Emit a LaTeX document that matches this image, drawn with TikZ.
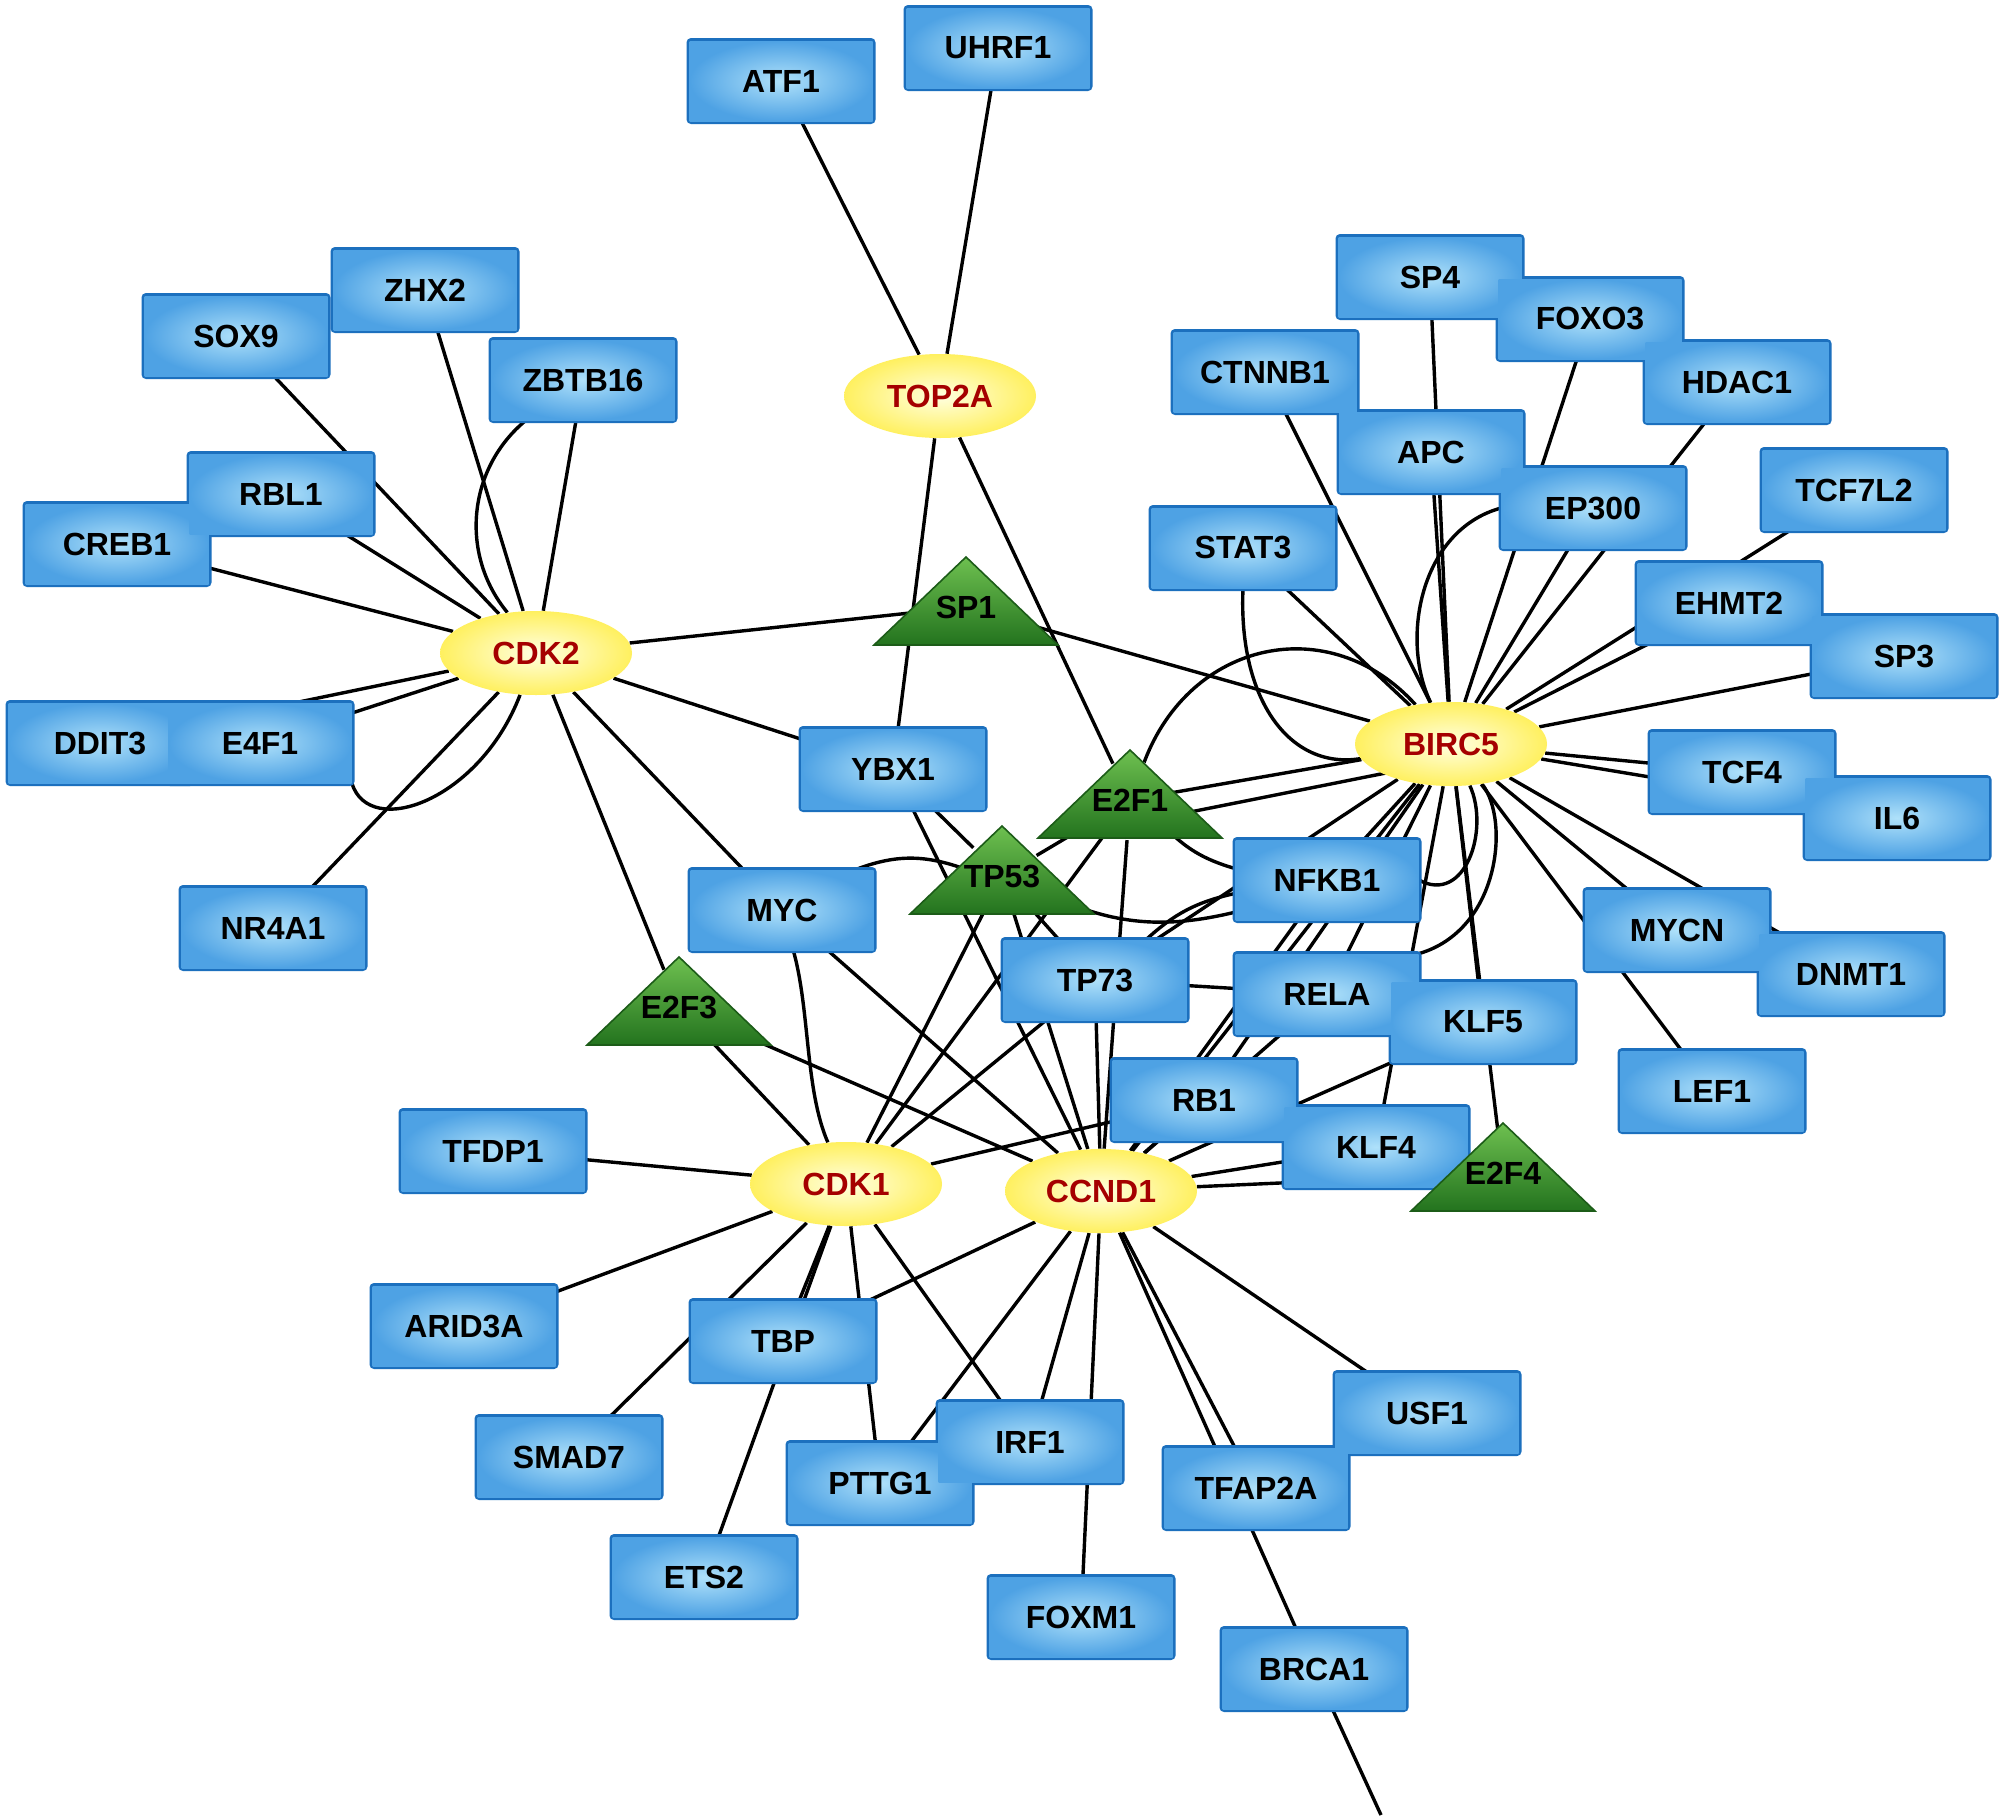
\documentclass[tikz,border=0pt]{standalone}
\usepackage{fontspec}
\setmainfont{Liberation Sans}
\usetikzlibrary{shapes.geometric}
\definecolor{boxfill}{RGB}{78,162,228}
\definecolor{boxline}{RGB}{28,112,190}
\definecolor{halo}{RGB}{175,225,250}
\definecolor{hubin}{RGB}{255,255,225}
\definecolor{hubout}{RGB}{255,240,95}
\definecolor{hubtext}{RGB}{165,0,0}
\definecolor{trtop}{RGB}{110,192,80}
\definecolor{trbot}{RGB}{35,115,30}
\pgfdeclarelayer{edges}
\pgfdeclarelayer{borders}
\pgfsetlayers{edges,borders,main}
\tikzset{
 gbox/.style={rectangle, inner color=halo, outer color=boxfill, minimum width=91.5pt, minimum height=40pt, inner sep=0pt, font=\bfseries\fontsize{16}{16}\selectfont},
 boxedge/.style={draw=boxline, line width=3pt, rounded corners=1pt},
 hub/.style={ellipse, inner color=hubin, outer color=hubout, minimum width=96pt, minimum height=42pt, inner sep=0pt, font=\bfseries\fontsize{16}{16}\selectfont, text=hubtext},
 trilab/.style={circle, minimum size=20pt, inner sep=0pt, font=\bfseries\fontsize{16}{16}\selectfont},
 trishape/.style={top color=trtop, bottom color=trbot, draw=trbot!80!black, line width=0.8pt},
 edge/.style={draw=black, line width=1.7pt},
}
\newcommand\genebox[4]{%
 \begin{pgfonlayer}{borders}\path[boxedge] (#2-91.5,#3-40) rectangle (#2+91.5,#3+40);\end{pgfonlayer}
 \node[gbox] (#1) at (#2,#3) {#4};}
\newcommand\genetri[4]{%
 \shade[trishape] (#2-92,#3+88) -- (#2,#3) -- (#2+92,#3+88) -- cycle;
 \node[trilab] (#1) at (#2,#3+50) {#4};}
\newcommand\genehub[4]{\node[hub] (#1) at (#2,#3) {#4};}
\begin{document}
\begin{tikzpicture}[x=0.5pt,y=-0.5pt]
\useasboundingbox (0,0) rectangle (2001,1815);
\begin{pgfonlayer}{edges}\fill[white] (0,0) rectangle (2001,1815);\end{pgfonlayer}
% top
\genebox{ATF1}{781}{81}{ATF1}
\genebox{UHRF1}{998}{48}{UHRF1}
\genehub{TOP2A}{940}{396}{TOP2A}
% left cluster
\genebox{SOX9}{236}{336}{SOX9}
\genebox{ZHX2}{425}{290}{ZHX2}
\genebox{ZBTB16}{583}{380}{ZBTB16}
\genebox{CREB1}{117}{544}{CREB1}
\genebox{RBL1}{281}{494}{RBL1}
\genehub{CDK2}{536}{653}{CDK2}
\genebox{DDIT3}{100}{743}{DDIT3}
\genebox{E4F1}{260}{743}{E4F1}
\genebox{NR4A1}{273}{928}{NR4A1}
% centre
\genetri{SP1}{966}{557}{SP1}
\genebox{YBX1}{893}{769}{YBX1}
\genetri{E2F1}{1130}{750}{E2F1}
\genetri{TP53}{1002}{826}{TP53}
\genebox{MYC}{782}{910}{MYC}
\genetri{E2F3}{679}{957}{E2F3}
\genebox{TP73}{1095}{980}{TP73}
\genebox{NFKB1}{1327}{880}{NFKB1}
\genebox{RELA}{1327}{994}{RELA}
\genebox{KLF5}{1483}{1022}{KLF5}
\genebox{RB1}{1204}{1100}{RB1}
\genebox{KLF4}{1376}{1147}{KLF4}
\genetri{E2F4}{1503}{1123}{E2F4}
\genehub{CDK1}{846}{1184}{CDK1}
\genehub{CCND1}{1101}{1191}{CCND1}
% bottom
\genebox{TFDP1}{493}{1151}{TFDP1}
\genebox{ARID3A}{464}{1326}{ARID3A}
\genebox{TBP}{783}{1341}{TBP}
\genebox{SMAD7}{569}{1457}{SMAD7}
\genebox{ETS2}{704}{1577}{ETS2}
\genebox{PTTG1}{880}{1483}{PTTG1}
\genebox{IRF1}{1030}{1442}{IRF1}
\genebox{FOXM1}{1081}{1617}{FOXM1}
\genebox{TFAP2A}{1256}{1488}{TFAP2A}
\genebox{USF1}{1427}{1413}{USF1}
\genebox{BRCA1}{1314}{1669}{BRCA1}
\coordinate (brcaend) at (1381,1815);
% right cluster
\genehub{BIRC5}{1451}{744}{BIRC5}
\genebox{STAT3}{1243}{548}{STAT3}
\genebox{CTNNB1}{1265}{372}{CTNNB1}
\genebox{SP4}{1430}{277}{SP4}
\genebox{FOXO3}{1590}{319}{FOXO3}
\genebox{HDAC1}{1737}{382}{HDAC1}
\genebox{APC}{1431}{452}{APC}
\genebox{EP300}{1593}{508}{EP300}
\genebox{TCF7L2}{1854}{490}{TCF7L2}
\genebox{EHMT2}{1729}{603}{EHMT2}
\genebox{SP3}{1904}{656}{SP3}
\genebox{TCF4}{1742}{772}{TCF4}
\genebox{IL6}{1897}{818}{IL6}
\genebox{MYCN}{1677}{930}{MYCN}
\genebox{DNMT1}{1851}{974}{DNMT1}
\genebox{LEF1}{1712}{1091}{LEF1}
\begin{pgfonlayer}{edges}
\draw[edge] (ATF1) -- (TOP2A);
\draw[edge] (UHRF1) -- (TOP2A);
\draw[edge] (TOP2A) -- (YBX1);
\draw[edge] (TOP2A) -- (E2F1);
\foreach \a in {SOX9,ZHX2,ZBTB16,RBL1,CREB1,DDIT3,E4F1,NR4A1,E2F3,MYC,YBX1,SP1}
  \draw[edge] (\a) -- (CDK2);
\draw[edge] (ZBTB16) to[bend right=45] (CDK2);
\draw[edge] (E4F1.south east) .. controls (370,840) and (480,800) .. (CDK2);
\foreach \a in {SP1,E2F1,STAT3,CTNNB1,SP4,APC,EP300,FOXO3,HDAC1,TCF7L2,EHMT2,SP3,TCF4,IL6,MYCN,DNMT1,LEF1,NFKB1,TP73,RELA,RB1,CCND1,KLF4,KLF5,E2F4}
  \draw[edge] (\a) -- (BIRC5);
\draw[edge] ([yshift=-12pt]E2F1.center) -- ([yshift=-8pt]BIRC5.center);
\draw[edge] (E2F1) .. controls (1190,640) and (1330,610) .. (BIRC5);
\draw[edge] (STAT3.south) .. controls (1238,700) and (1290,770) .. (BIRC5);
\draw[edge] (EP300.west) .. controls (1420,530) and (1400,640) .. (BIRC5);
\draw[edge] (NFKB1.east) .. controls (1465,905) and (1490,830) .. (BIRC5);
\draw[edge] (BIRC5) .. controls (1510,820) and (1500,930) .. (RELA.north east);
\draw[edge] (E2F1) -- (TP53);
\draw[edge] (E2F1) -- (CDK1);
\draw[edge] (E2F1) -- (CCND1);
\draw[edge] (E2F1) to[bend right=15] (NFKB1);
\draw[edge] (YBX1) -- (TP53);
\draw[edge] (YBX1) -- (CCND1);
\draw[edge] (MYC) to[bend left=20] (TP53);
\draw[edge] (MYC) .. controls (810,1010) and (805,1090) .. (CDK1);
\draw[edge] (MYC) -- (CCND1);
\draw[edge] (E2F3) -- (CDK1);
\draw[edge] (E2F3) -- (CCND1);
\draw[edge] (TP53) -- (CDK1);
\draw[edge] (TP53) -- (CCND1);
\draw[edge] (TP53) -- (TP73);
\draw[edge] (TP73) -- (CDK1);
\draw[edge] (TP73) -- (CCND1);
\draw[edge] (TP73) -- (RELA);
\draw[edge] (NFKB1) to[bend right=15] (TP73);
\draw[edge] (NFKB1) to[bend left=20] (TP53);
\draw[edge] (NFKB1) -- (CCND1);
\draw[edge] (RELA) -- (CCND1);
\draw[edge] (KLF5) -- (CCND1);
\foreach \a in {RB1,KLF4,E2F4,TBP,PTTG1,IRF1,FOXM1,TFAP2A,BRCA1,USF1}
  \draw[edge] (CCND1) -- (\a);
\foreach \a in {RB1,TFDP1,ARID3A,TBP,SMAD7,ETS2,PTTG1,IRF1}
  \draw[edge] (CDK1) -- (\a);
\draw[edge] (BRCA1) -- (brcaend);
\end{pgfonlayer}
\end{tikzpicture}
\end{document}
